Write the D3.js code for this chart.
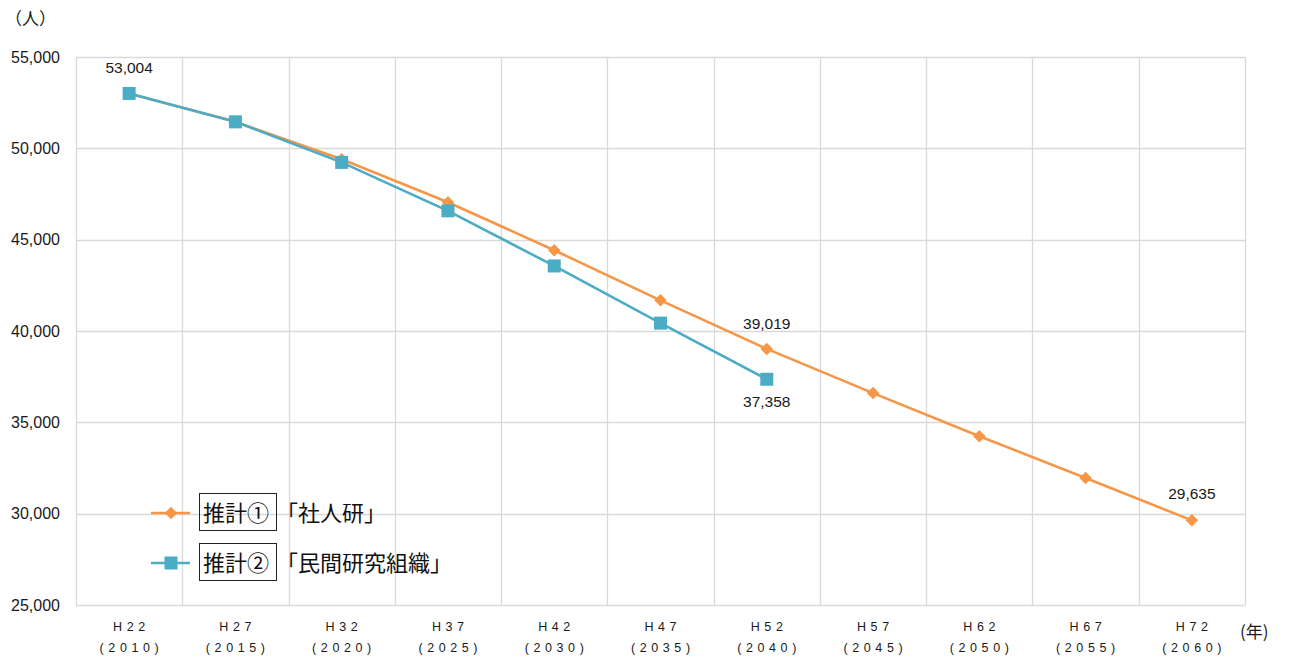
<!DOCTYPE html>
<html>
<head>
<meta charset="utf-8">
<script src="https://cdn.jsdelivr.net/npm/d3@7"></script>
<style>
  body { margin: 0; background: #fff; }
  svg { display: block; }
</style>
</head>
<body>
<svg id="chart" width="1293" height="657"></svg>
<script>
// Population projection (persons), H22 (2010) to H72 (2060)
const categories = ["H22", "H27", "H32", "H37", "H42", "H47", "H52", "H57", "H62", "H67", "H72"];
const years = ["2010", "2015", "2020", "2025", "2030", "2035", "2040", "2045", "2050", "2055", "2060"];
const estimate1 = [53004, 51450, 49400, 47050, 44420, 41680, 39019, 36600, 34240, 31950, 29635];
const estimate2 = [53004, 51450, 49230, 46580, 43560, 40430, 37358];
const yTicks = [25000, 30000, 35000, 40000, 45000, 50000, 55000];
const seriesNames = ["「社人研」", "「民間研究組織」"];
const seriesTags = ["推計①", "推計②"];
const colors = ["#F79646", "#4BACC6"];

const svg = d3.select("#chart");
const margin = { left: 76, right: 48, top: 57, bottom: 52 };
const W = 1293, H = 657;

const x = d3.scaleBand().domain(categories).range([margin.left, W - margin.right]);
const y = d3.scaleLinear().domain([25000, 55000]).range([H - margin.bottom, margin.top]);
const fmt = d3.format(",");
const numFont = "'Liberation Sans', Arial, sans-serif";
const cjkFont = "'Noto Sans CJK JP', sans-serif";
const textColor = "#1a1a1a";

// grid
const grid = svg.append("g").attr("stroke", "#d9d9d9").attr("stroke-width", 1.3);
yTicks.forEach(t => {
  grid.append("line").attr("x1", margin.left).attr("x2", W - margin.right)
    .attr("y1", Math.round(y(t)) + 0.5).attr("y2", Math.round(y(t)) + 0.5);
});
categories.concat(["end"]).forEach((c, i) => {
  const xx = i < categories.length ? x(c) : x.range()[1];
  grid.append("line").attr("x1", Math.round(xx) + 0.5).attr("x2", Math.round(xx) + 0.5)
    .attr("y1", margin.top).attr("y2", H - margin.bottom);
});

// y axis labels
const yAxis = d3.axisLeft(y).tickValues(yTicks).tickFormat(fmt).tickSize(0).tickPadding(16);
const yg = svg.append("g").attr("transform", `translate(${margin.left},0)`).call(yAxis);
yg.select(".domain").remove();
yg.selectAll("text").attr("font-family", numFont).attr("font-size", 16).attr("fill", textColor);

// x axis labels (two rows, letter-spaced)
const spacing = 4.6;
const xg = svg.append("g");
categories.forEach((c, i) => {
  const cx = x(c) + x.bandwidth() / 2 + spacing / 2;
  xg.append("text").attr("x", cx).attr("y", 631).attr("text-anchor", "middle")
    .attr("font-family", numFont).attr("font-size", 12.5).attr("letter-spacing", spacing).attr("fill", textColor)
    .text(c);
  xg.append("text").attr("x", cx).attr("y", 652).attr("text-anchor", "middle")
    .attr("font-family", numFont).attr("font-size", 12.5).attr("letter-spacing", spacing).attr("fill", textColor)
    .text("(" + years[i] + ")");
});

// unit labels
svg.append("text").attr("x", 5).attr("y", 25).attr("font-family", cjkFont).attr("font-size", 17).attr("fill", textColor).text("（人）");
svg.append("text").attr("x", 1240).attr("y", 638).attr("font-family", cjkFont).attr("font-size", 17).attr("fill", textColor).text("(年)");

const cxOf = i => x(categories[i]) + x.bandwidth() / 2;
const line = d3.line().x((d, i) => cxOf(i)).y(d => y(d));
const diamondPath = d3.symbol().type(d3.symbolSquare).size(78)();

// series 1: diamonds
svg.append("path").datum(estimate1).attr("d", line).attr("fill", "none")
  .attr("stroke", colors[0]).attr("stroke-width", 2.6);
svg.append("g").selectAll("path").data(estimate1).join("path")
  .attr("transform", (d, i) => `translate(${cxOf(i)},${y(d)}) rotate(45)`)
  .attr("d", diamondPath)
  .attr("fill", colors[0]);

// series 2: squares
svg.append("path").datum(estimate2).attr("d", line).attr("fill", "none")
  .attr("stroke", colors[1]).attr("stroke-width", 2.6);
svg.append("g").selectAll("rect").data(estimate2).join("rect")
  .attr("x", (d, i) => cxOf(i) - 6.5).attr("y", d => y(d) - 6.5)
  .attr("width", 13).attr("height", 13).attr("fill", colors[1]);

// value labels
const labels = [
  { v: estimate1[0], i: 0, dy: -20 },
  { v: estimate1[6], i: 6, dy: -20 },
  { v: estimate2[6], i: 6, dy: 28 },
  { v: estimate1[10], i: 10, dy: -21 }
];
svg.append("g").selectAll("text").data(labels).join("text")
  .attr("x", d => cxOf(d.i)).attr("y", d => y(d.v) + d.dy)
  .attr("text-anchor", "middle").attr("font-family", numFont).attr("font-size", 15.5).attr("fill", textColor)
  .text(d => fmt(d.v));

// legend
const legendY = [513, 563];
legendY.forEach((ly, k) => {
  const g = svg.append("g");
  g.append("line").attr("x1", 151).attr("x2", 190).attr("y1", ly).attr("y2", ly)
    .attr("stroke", colors[k]).attr("stroke-width", 2.6);
  if (k === 0) {
    g.append("path").attr("transform", `translate(171,${ly}) rotate(45)`)
      .attr("d", diamondPath).attr("fill", colors[k]);
  } else {
    g.append("rect").attr("x", 164.5).attr("y", ly - 6.5).attr("width", 13).attr("height", 13).attr("fill", colors[k]);
  }
  g.append("rect").attr("x", 199.5).attr("y", ly - 19.5).attr("width", 77).attr("height", 37)
    .attr("fill", "none").attr("stroke", "#222").attr("stroke-width", 1);
  g.append("text").attr("x", 203).attr("y", ly + 8).attr("font-family", cjkFont).attr("font-size", 22)
    .attr("fill", "#111").text(seriesTags[k]);
  g.append("text").attr("x", 276).attr("y", ly + 8).attr("font-family", cjkFont).attr("font-size", 22)
    .attr("fill", "#111").text(seriesNames[k]);
});
</script>
</body>
</html>
